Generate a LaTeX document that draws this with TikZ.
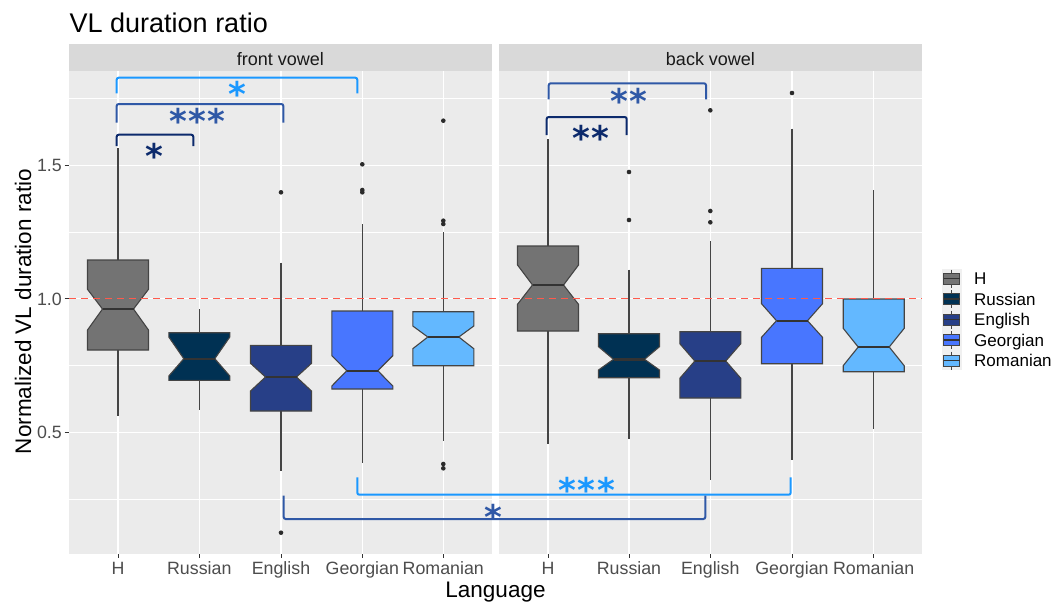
\documentclass[tikz,border=0pt]{standalone}
\usepackage{fontspec}
\setmainfont{Liberation Sans}
\newfontfamily\starfont{DejaVu Sans}[BoldFont={DejaVu Sans Bold}]
\definecolor{panelbg}{HTML}{EBEBEB}
\definecolor{stripbg}{HTML}{D9D9D9}
\definecolor{keybg}{HTML}{F0F0F0}
\definecolor{boxgray}{HTML}{444444}
\definecolor{medgray}{HTML}{333333}
\definecolor{ptgray}{HTML}{2B2B2B}
\definecolor{tickgray}{HTML}{4D4D4D}
\definecolor{cH}{HTML}{737373}
\definecolor{cRu}{HTML}{003153}
\definecolor{cEn}{HTML}{273F87}
\definecolor{cGe}{HTML}{4876FF}
\definecolor{cRo}{HTML}{63B8FF}
\definecolor{sigA}{HTML}{1A98FF}
\definecolor{sigB}{HTML}{2F58A6}
\definecolor{sigC}{HTML}{0C2A6C}
\definecolor{refred}{HTML}{FF5A4C}
\newcommand\nbox[9]{%
  \draw[whisk] (#1,#2) -- (#1,#3);
  \draw[whisk] (#1,#7) -- (#1,#8);
  \filldraw[boxline,fill=#9] (#1-30.5,#3) -- (#1-30.5,#4) -- (#1-15.5,#5) -- (#1-30.5,#6) -- (#1-30.5,#7)
    -- (#1+30.5,#7) -- (#1+30.5,#6) -- (#1+15.5,#5) -- (#1+30.5,#4) -- (#1+30.5,#3) -- cycle;
  \draw[medline] (#1-15.5,#5) -- (#1+15.5,#5);
}
\newcommand\legkey[4]{%
  \draw[whisk] (951.5,#1-9) -- (951.5,#1+9);
  \filldraw[boxline,line width=0.9pt,fill=#2] (943.5,#1-5.5) rectangle (959.5,#1+5.5);
  \draw[medgray,line width=1.6pt] (943.5,#1) -- (959.5,#1);
  \node[legtext,anchor=base west] (#4) at (974,#1+6.2) {#3};
}
\newcommand\sk{\kern1.5pt}
\begin{document}
\begin{tikzpicture}[x=1pt,y=-1pt,
  whisk/.style={draw=boxgray,line width=1.1pt},
  boxline/.style={draw=boxgray,line width=1.1pt,line join=miter},
  medline/.style={draw=medgray,line width=2.4pt},
  outl/.style={fill=ptgray},
  brk/.style={line width=2pt,rounded corners=2pt},
  sig/.style={font=\starfont\bfseries\fontsize{34}{36}\selectfont,anchor=base,inner sep=0pt},
  ticklab/.style={font=\fontsize{17.8}{20}\selectfont,text=tickgray,inner sep=0pt},
  legtext/.style={font=\fontsize{17}{20}\selectfont,text=black,inner sep=0pt},
  striptext/.style={font=\fontsize{18}{20}\selectfont,text=black!90,inner sep=0pt,anchor=base},
  axtitle/.style={font=\fontsize{22.5}{25}\selectfont,text=black,inner sep=0pt,anchor=base},
  majgrid/.style={white,line width=1.1pt},
  mingrid/.style={white,line width=0.55pt},
  tickmark/.style={draw=medgray,line width=1pt}]
\useasboundingbox (0,0) rectangle (1058,603);
\fill[white] (0,0) rectangle (1058,603);

% title
\node[font=\fontsize{27}{30}\selectfont,anchor=base west,inner sep=0pt] (title) at (69.5,32.3) {VL duration ratio};

% panels and strips
\foreach \xa/\xb in {69/492,499/922}{
  \fill[stripbg] (\xa,44) rectangle (\xb,71);
  \fill[panelbg] (\xa,71) rectangle (\xb,554);
  \foreach \yy in {98.45,232,365.45,498.95}{\draw[mingrid] (\xa,\yy) -- (\xb,\yy);}
  \foreach \yy in {165.2,298.7,432.2}{\draw[majgrid] (\xa,\yy) -- (\xb,\yy);}
}
\foreach \xx in {118,199.3,281,362.3,443.3,548,629,710.3,792,873.7}{
  \draw[majgrid] (\xx,71) -- (\xx,554);
  \draw[tickmark] (\xx,554) -- (\xx,558);
}
\node[striptext] (sfront) at (280.5,65) {front vowel};
\node[striptext] (sback) at (710.5,65) {back vowel};

% y axis ticks
\foreach \yy/\lab in {165.2/1.5,298.7/1.0,432.2/0.5}{
  \draw[tickmark] (64.5,\yy) -- (69,\yy);
  \node[ticklab,anchor=base east] at (62,\yy+6.3) {\lab};
}

% boxes, left panel
\nbox{118}{148}{260}{289.3}{309}{330}{350}{416}{cH}
\nbox{199.3}{309}{332.7}{337}{358.7}{376}{380.3}{410}{cRu}
\nbox{281}{262.7}{345.3}{363.3}{377}{391}{411}{471}{cEn}
\nbox{362.3}{224}{311}{355.7}{370.7}{386}{389}{462.7}{cGe}
\nbox{443.3}{232.3}{311.7}{326}{337}{348.7}{365.7}{441}{cRo}
% boxes, right panel
\nbox{548}{139}{246}{265}{285}{304.3}{331}{444.3}{cH}
\nbox{629}{269.7}{333.7}{346.7}{359.3}{370}{377.7}{439}{cRu}
\nbox{710.3}{241.3}{331.7}{343.7}{361}{378.3}{398}{480}{cEn}
\nbox{792}{128.7}{268.3}{303.7}{320.7}{337.3}{363.7}{460}{cGe}
\nbox{873.7}{190}{299}{328.3}{347}{365.7}{371.7}{429}{cRo}

% outliers
\foreach \xx/\yy in {281/192.3,281/532.7,362.3/164.3,362.3/190,362.3/192.3,
  443.3/120.7,443.3/220.7,443.3/224,443.3/464,443.3/468.3,
  629/172,629/220,710.3/110.3,710.3/211,710.3/222.3,792/93}{
  \fill[outl] (\xx,\yy) circle (2.3);
}

% reference line
\draw[refred,line width=1.2pt,dash pattern=on 7pt off 5pt] (69,298.7) -- (922,298.7);

% significance brackets
\def\soff{16.5}
\coordinate (a1) at (116.7,93.3); \coordinate (a2) at (357.3,93.3);
\draw[brk,sigA] (a1) |- (237,77.7) -| (a2);
\node[sig,text=sigA] (sa) at (237,90+\soff) {*};
\coordinate (b1) at (116.7,122.7); \coordinate (b2) at (283.3,122.7);
\draw[brk,sigB] (b1) |- (200,104) -| (b2);
\node[sig,text=sigB] (sb) at (197.5,116.7+\soff) {*\sk*\sk*};
\coordinate (c1) at (116.7,146); \coordinate (c2) at (193.3,146);
\draw[brk,sigC] (c1) |- (155,134.7) -| (c2);
\node[sig,text=sigC] (sc) at (154.7,151.7+\soff) {*};
\coordinate (d1) at (548.7,99.3); \coordinate (d2) at (706,99.3);
\draw[brk,sigB] (d1) |- (627,83.3) -| (d2);
\node[sig,text=sigB] (sd) at (629,97.3+\soff) {*\sk*};
\coordinate (e1) at (546.7,135); \coordinate (e2) at (626.7,135);
\draw[brk,sigC] (e1) |- (587,117) -| (e2);
\node[sig,text=sigC] (se) at (591,134.3+\soff) {*\sk*};
\coordinate (f1) at (357.3,477.3); \coordinate (f2) at (790.7,477.3);
\draw[brk,sigA] (f1) |- (574,494.7) -| (f2);
\node[sig,text=sigA] (sf) at (586.7,485.7+\soff) {*\sk*\sk*};
\coordinate (g1) at (283.7,495.7); \coordinate (g2) at (705.3,495.7);
\draw[brk,sigB] (g1) |- (494,519) -| (g2);
\node[sig,text=sigB] (sg) at (493.3,512.7+\soff) {*};

% x tick labels
\foreach \xx/\lab in {118/H,199.3/Russian,281/English,362.3/Georgian,443.3/Romanian,
  548/H,629/Russian,710.3/English,792/Georgian,873.7/Romanian}{
  \node[ticklab,anchor=base] at (\xx,574.3) {\lab};
}

% axis titles
\node[axtitle] (xtitle) at (495.5,597.7) {Language};
\node[axtitle,rotate=90] (ytitle) at (31,311.5) {Normalized VL duration ratio};

% legend
\fill[keybg] (941.5,269) rectangle (961.5,370);
\legkey{278.5}{cH}{H}{lH}
\legkey{299}{cRu}{Russian}{lRu}
\legkey{319.5}{cEn}{English}{lEn}
\legkey{340}{cGe}{Georgian}{lGe}
\legkey{360.5}{cRo}{Romanian}{lRo}
\end{tikzpicture}
\end{document}
